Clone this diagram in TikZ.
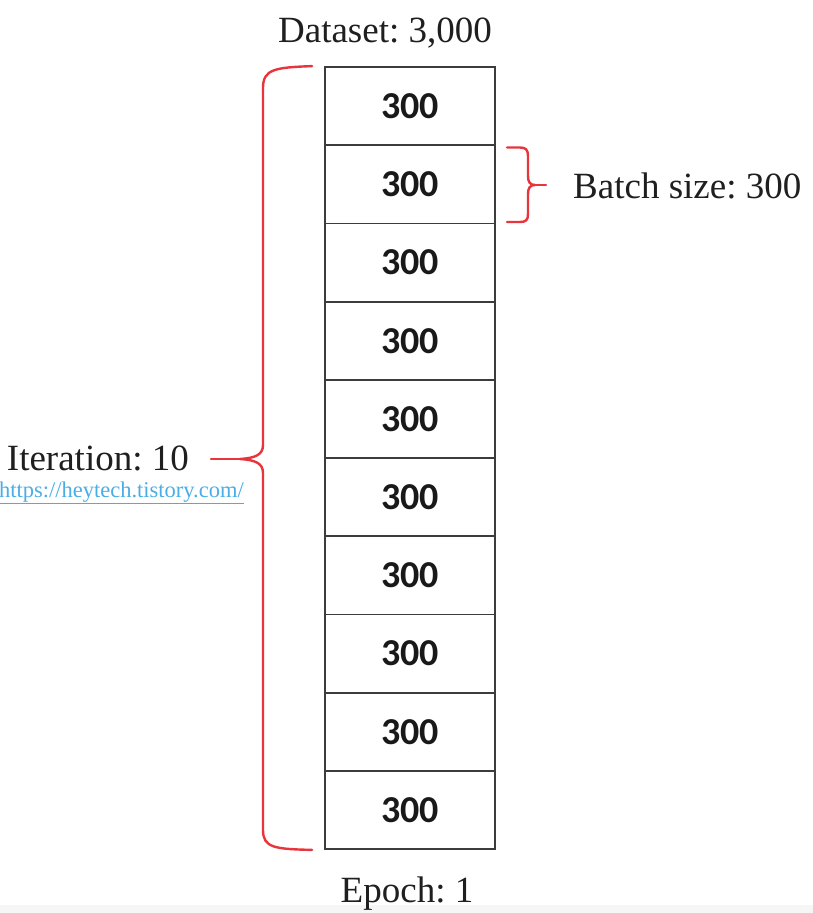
\documentclass[tikz,border=0pt]{standalone}
\usepackage{fontspec}
\setmainfont{Liberation Serif}
\newfontfamily\boxfont{Carlito}
\frenchspacing
\definecolor{bracered}{HTML}{E8353C}
\definecolor{boxline}{HTML}{3C3C3C}
\definecolor{urlblue}{HTML}{4AAEE6}
\definecolor{bandgrey}{HTML}{F6F6F6}
\tikzset{
  batchbox/.style={draw=boxline, line width=1.8pt, minimum width=170pt, minimum height=78.2pt, inner sep=0pt,
    font=\boxfont\bfseries\fontsize{38}{40}\selectfont, text=black!90},
  lbl/.style={inner sep=0pt, font=\fontsize{37}{40}\selectfont, text=black!88},
  bracestyle/.style={draw=bracered, line width=2.4pt, line join=round, line cap=round}
}
\begin{document}
\begin{tikzpicture}[x=1pt,y=-1pt]
\useasboundingbox (0,0) rectangle (813,913);
\fill[white] (0,0) rectangle (813,913);
\fill[bandgrey] (0,905) rectangle (813,913);
\foreach \i in {1,...,10} {
  \node[batchbox] (b\i) at (410,{67+78.2*(\i-0.5)}) {300};
}
\node[lbl, anchor=base] (dataset) at (385,42) {Dataset: 3,000};
\node[lbl, anchor=base] (epoch) at (407,902) {Epoch: 1};
\node[lbl, anchor=base west] (batch) at (573,198) {Batch size: 300};
\node[lbl, anchor=base east] (iter) at (189,470) {Iteration: 10};
\node[inner sep=0pt, anchor=base east, text=urlblue, font=\fontsize{22.5}{24}\selectfont] (url) at (244,497) {\underline{https://heytech.tistory.com/}};
% left brace
\coordinate (ltip) at (211,459);
\draw[bracestyle] ([xshift=-12pt]b1.north west) .. controls (275,67.5) and (263,69) .. (263,88)
  -- (263,445) .. controls (263,455) and (255,458) .. (240,459)
  .. controls (255,460) and (263,463) .. (263,473)
  -- (263,830) .. controls (263,848) and (275,849) .. ([xshift=-12pt]b10.south west);
\draw[bracestyle] (240,459) -- (ltip);
% right brace
\coordinate (rtip) at (546,185);
\draw[bracestyle] (507,147.5) -- (520,147.5) .. controls (526,147.5) and (528,150) .. (528,156)
  -- (528,176) .. controls (528,182) and (530,185) .. (535,185)
  .. controls (530,185) and (528,188) .. (528,194)
  -- (528,214) .. controls (528,220) and (526,222) .. (520,222) -- (507,222);
\draw[bracestyle] (535,185) -- (rtip);
\end{tikzpicture}
\end{document}
